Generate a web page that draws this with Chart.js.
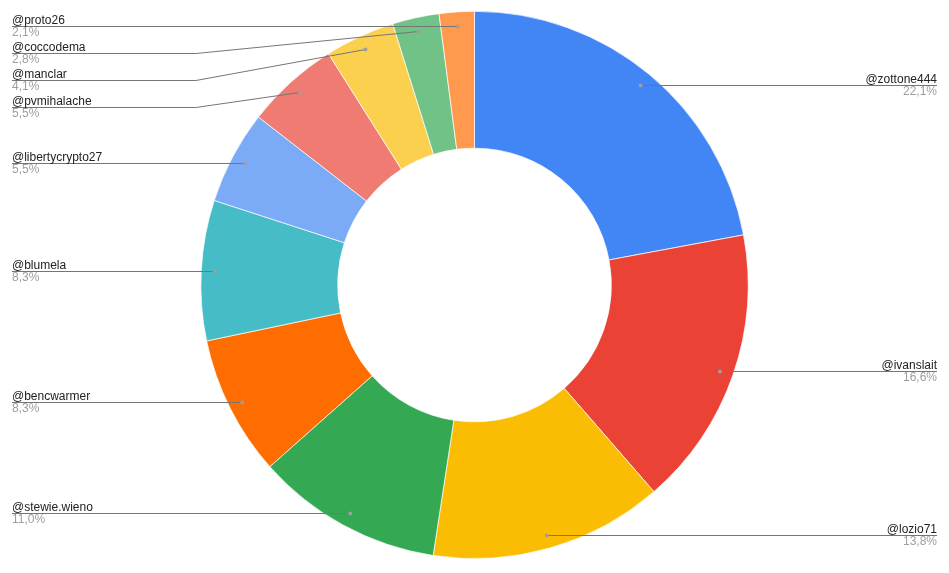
<!DOCTYPE html>
<html>
<head>
<meta charset="utf-8">
<script src="https://cdn.jsdelivr.net/npm/chart.js@4"></script>
<style>
  html, body { margin: 0; padding: 0; background: #fff; }
  #wrap { width: 949px; height: 573px; position: relative; }
</style>
</head>
<body>
<div id="wrap"><canvas id="c" width="949" height="573"></canvas></div>
<script>
const labels = ['@zottone444', '@ivanslait', '@lozio71', '@stewie.wieno', '@bencwarmer', '@blumela', '@libertycrypto27', '@pvmihalache', '@manclar', '@coccodema', '@proto26'];
const values = [32, 24, 20, 16, 12, 12, 8, 8, 6, 4, 3];
const colors = ['#4285F4', '#EA4335', '#FBBC04', '#34A853', '#FF6D01', '#46BDC6', '#7BAAF7', '#F07B72', '#FCD04F', '#71C287', '#FF994D'];

const total = values.reduce((a, b) => a + b, 0);

const labelPlugin = {
  id: 'sideLabels',
  afterDatasetsDraw(chart) {
    const ctx = chart.ctx;
    const meta = chart.getDatasetMeta(0);
    const W = chart.width;
    const items = meta.data.map((arc, i) => {
      const mid = (arc.startAngle + arc.endAngle) / 2;
      const r = arc.outerRadius * 0.95;
      const dx = arc.x + Math.cos(mid) * r;
      const dy = Math.round(arc.y + Math.sin(mid) * r);
      return { i, dx, dy, cx: arc.x, R: arc.outerRadius, right: dx >= arc.x };
    });
    const gap = 27;
    ['left', 'right'].forEach(side => {
      const arr = items.filter(it => (side === 'right') === it.right).sort((a, b) => a.dy - b.dy);
      let prev = -Infinity;
      arr.forEach(it => {
        it.ly = Math.max(it.dy, prev + gap);
        prev = it.ly;
      });
    });
    ctx.save();
    items.forEach(it => {
      const textX = it.right ? W - 12 : 12;
      const bendX = it.right ? it.cx + it.R + 5 : it.cx - it.R - 5;
      const lyl = it.ly + 0.5;
      ctx.strokeStyle = '#757575';
      ctx.lineWidth = 1;
      ctx.beginPath();
      ctx.moveTo(it.dx, it.dy + 0.5);
      if (it.ly !== it.dy) {
        ctx.lineTo(bendX, lyl);
      }
      ctx.lineTo(textX, lyl);
      ctx.stroke();
      ctx.fillStyle = '#9e9e9e';
      ctx.beginPath();
      ctx.arc(it.dx, it.dy + 0.5, 2, 0, Math.PI * 2);
      ctx.fill();
      ctx.textAlign = it.right ? 'right' : 'left';
      ctx.font = '12px "Liberation Sans", Arial, sans-serif';
      ctx.fillStyle = '#222222';
      ctx.textBaseline = 'alphabetic';
      ctx.fillText(labels[it.i], textX, it.ly - 2);
      ctx.fillStyle = '#9e9e9e';
      ctx.textBaseline = 'top';
      const pct = (values[it.i] / total * 100).toFixed(1).replace('.', ',') + '%';
      ctx.fillText(pct, textX, it.ly + 1);
    });
    ctx.restore();
  }
};

new Chart(document.getElementById('c'), {
  type: 'doughnut',
  data: {
    labels: labels,
    datasets: [{
      data: values,
      backgroundColor: colors,
      borderColor: '#ffffff',
      borderWidth: 0.7
    }]
  },
  options: {
    responsive: false,
    animation: false,
    cutout: '50%',
    layout: { padding: { top: 11, bottom: 14, left: 0, right: 0 } },
    plugins: {
      legend: { display: false },
      tooltip: { enabled: false }
    }
  },
  plugins: [labelPlugin]
});
</script>
</body>
</html>
